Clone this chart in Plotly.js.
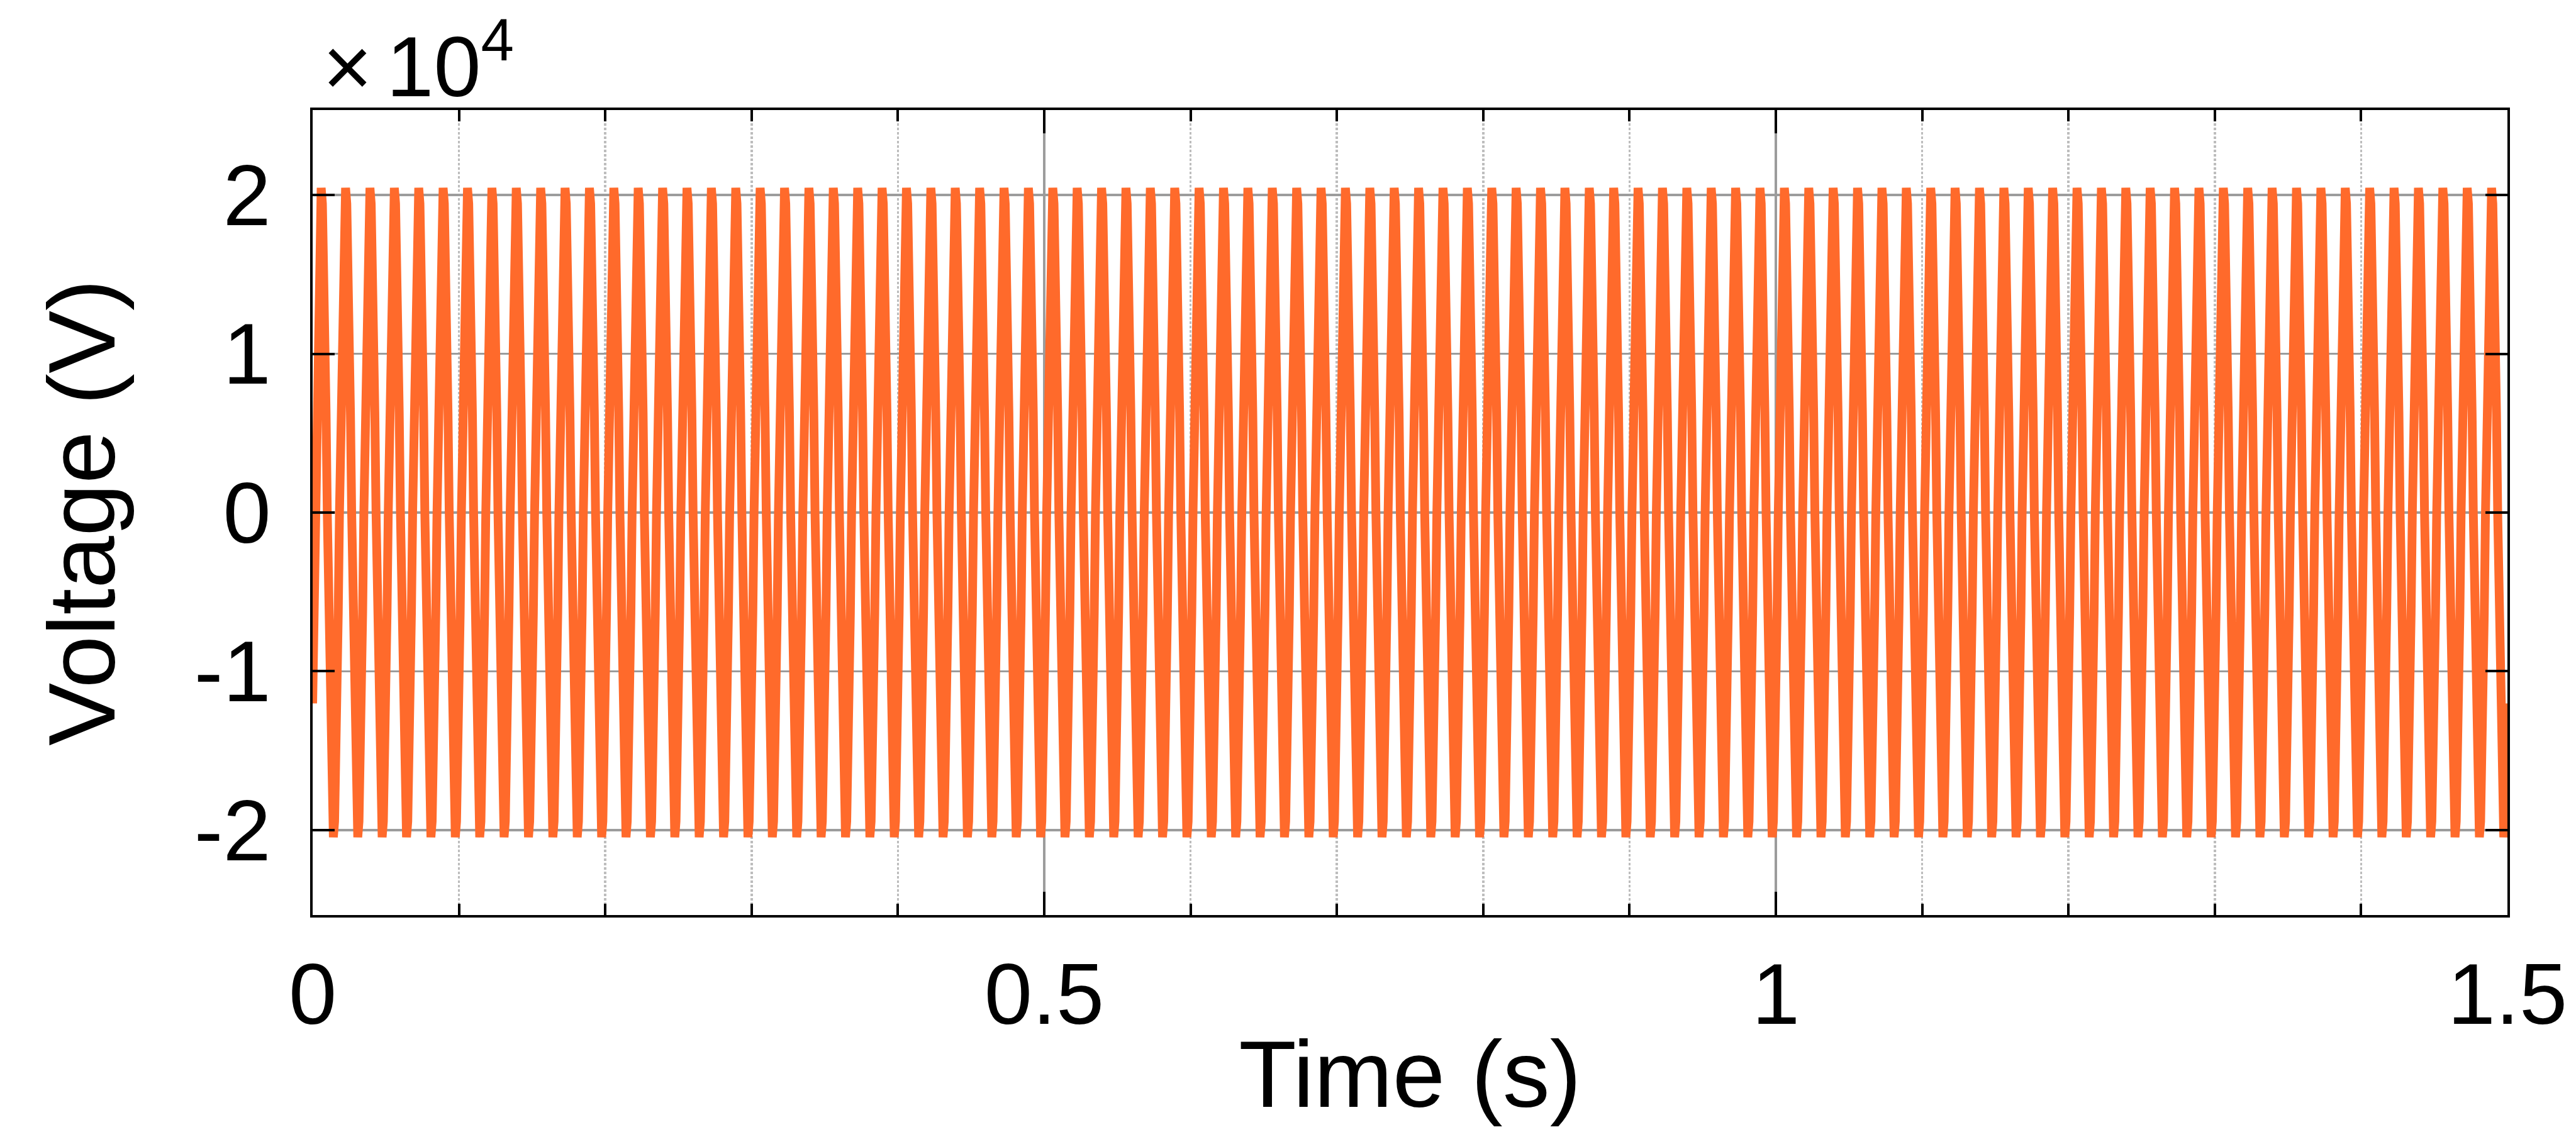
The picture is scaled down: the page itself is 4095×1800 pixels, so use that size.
<!DOCTYPE html>
<html>
<head>
<meta charset="utf-8">
<script src="https://cdn.plot.ly/plotly-3.0.1.min.js"></script>
<style>
  html, body { margin: 0; padding: 0; background: #ffffff; }
  #chart { width: 4095px; height: 1800px; }
</style>
</head>
<body>
<div id="chart"></div>
<script>
const sampleStart = 0;          // s
const sampleInterval = 1 / 1200; // s
const voltage = [
-12021,-6319,0,6319,12021,16544,19450,20450,19450,16544,12021,6319,0,-6319,-12021,-16544,-19450,-20450,-19450,-16544,
-12021,-6319,0,6319,12021,16544,19450,20450,19450,16544,12021,6319,0,-6319,-12021,-16544,-19450,-20450,-19450,-16544,
-12021,-6319,0,6319,12021,16544,19450,20450,19450,16544,12021,6319,0,-6319,-12021,-16544,-19450,-20450,-19450,-16544,
-12021,-6319,0,6319,12021,16544,19450,20450,19450,16544,12021,6319,0,-6319,-12021,-16544,-19450,-20450,-19450,-16544,
-12021,-6319,0,6319,12021,16544,19450,20450,19450,16544,12021,6319,0,-6319,-12021,-16544,-19450,-20450,-19450,-16544,
-12021,-6319,0,6319,12021,16544,19450,20450,19450,16544,12021,6319,0,-6319,-12021,-16544,-19450,-20450,-19450,-16544,
-12021,-6319,0,6319,12021,16544,19450,20450,19450,16544,12021,6319,0,-6319,-12021,-16544,-19450,-20450,-19450,-16544,
-12021,-6319,0,6319,12021,16544,19450,20450,19450,16544,12021,6319,0,-6319,-12021,-16544,-19450,-20450,-19450,-16544,
-12021,-6319,0,6319,12021,16544,19450,20450,19450,16544,12021,6319,0,-6319,-12021,-16544,-19450,-20450,-19450,-16544,
-12021,-6319,0,6319,12021,16544,19450,20450,19450,16544,12021,6319,0,-6319,-12021,-16544,-19450,-20450,-19450,-16544,
-12021,-6319,0,6319,12021,16544,19450,20450,19450,16544,12021,6319,0,-6319,-12021,-16544,-19450,-20450,-19450,-16544,
-12021,-6319,0,6319,12021,16544,19450,20450,19450,16544,12021,6319,0,-6319,-12021,-16544,-19450,-20450,-19450,-16544,
-12021,-6319,0,6319,12021,16544,19450,20450,19450,16544,12021,6319,0,-6319,-12021,-16544,-19450,-20450,-19450,-16544,
-12021,-6319,0,6319,12021,16544,19450,20450,19450,16544,12021,6319,0,-6319,-12021,-16544,-19450,-20450,-19450,-16544,
-12021,-6319,0,6319,12021,16544,19450,20450,19450,16544,12021,6319,0,-6319,-12021,-16544,-19450,-20450,-19450,-16544,
-12021,-6319,0,6319,12021,16544,19450,20450,19450,16544,12021,6319,0,-6319,-12021,-16544,-19450,-20450,-19450,-16544,
-12021,-6319,0,6319,12021,16544,19450,20450,19450,16544,12021,6319,0,-6319,-12021,-16544,-19450,-20450,-19450,-16544,
-12021,-6319,0,6319,12021,16544,19450,20450,19450,16544,12021,6319,0,-6319,-12021,-16544,-19450,-20450,-19450,-16544,
-12021,-6319,0,6319,12021,16544,19450,20450,19450,16544,12021,6319,0,-6319,-12021,-16544,-19450,-20450,-19450,-16544,
-12021,-6319,0,6319,12021,16544,19450,20450,19450,16544,12021,6319,0,-6319,-12021,-16544,-19450,-20450,-19450,-16544,
-12021,-6319,0,6319,12021,16544,19450,20450,19450,16544,12021,6319,0,-6319,-12021,-16544,-19450,-20450,-19450,-16544,
-12021,-6319,0,6319,12021,16544,19450,20450,19450,16544,12021,6319,0,-6319,-12021,-16544,-19450,-20450,-19450,-16544,
-12021,-6319,0,6319,12021,16544,19450,20450,19450,16544,12021,6319,0,-6319,-12021,-16544,-19450,-20450,-19450,-16544,
-12021,-6319,0,6319,12021,16544,19450,20450,19450,16544,12021,6319,0,-6319,-12021,-16544,-19450,-20450,-19450,-16544,
-12021,-6319,0,6319,12021,16544,19450,20450,19450,16544,12021,6319,0,-6319,-12021,-16544,-19450,-20450,-19450,-16544,
-12021,-6319,0,6319,12021,16544,19450,20450,19450,16544,12021,6319,0,-6319,-12021,-16544,-19450,-20450,-19450,-16544,
-12021,-6319,0,6319,12021,16544,19450,20450,19450,16544,12021,6319,0,-6319,-12021,-16544,-19450,-20450,-19450,-16544,
-12021,-6319,0,6319,12021,16544,19450,20450,19450,16544,12021,6319,0,-6319,-12021,-16544,-19450,-20450,-19450,-16544,
-12021,-6319,0,6319,12021,16544,19450,20450,19450,16544,12021,6319,0,-6319,-12021,-16544,-19450,-20450,-19450,-16544,
-12021,-6319,0,6319,12021,16544,19450,20450,19450,16544,12021,6319,0,-6319,-12021,-16544,-19450,-20450,-19450,-16544,
-12021,-6319,0,6319,12021,16544,19450,20450,19450,16544,12021,6319,0,-6319,-12021,-16544,-19450,-20450,-19450,-16544,
-12021,-6319,0,6319,12021,16544,19450,20450,19450,16544,12021,6319,0,-6319,-12021,-16544,-19450,-20450,-19450,-16544,
-12021,-6319,0,6319,12021,16544,19450,20450,19450,16544,12021,6319,0,-6319,-12021,-16544,-19450,-20450,-19450,-16544,
-12021,-6319,0,6319,12021,16544,19450,20450,19450,16544,12021,6319,0,-6319,-12021,-16544,-19450,-20450,-19450,-16544,
-12021,-6319,0,6319,12021,16544,19450,20450,19450,16544,12021,6319,0,-6319,-12021,-16544,-19450,-20450,-19450,-16544,
-12021,-6319,0,6319,12021,16544,19450,20450,19450,16544,12021,6319,0,-6319,-12021,-16544,-19450,-20450,-19450,-16544,
-12021,-6319,0,6319,12021,16544,19450,20450,19450,16544,12021,6319,0,-6319,-12021,-16544,-19450,-20450,-19450,-16544,
-12021,-6319,0,6319,12021,16544,19450,20450,19450,16544,12021,6319,0,-6319,-12021,-16544,-19450,-20450,-19450,-16544,
-12021,-6319,0,6319,12021,16544,19450,20450,19450,16544,12021,6319,0,-6319,-12021,-16544,-19450,-20450,-19450,-16544,
-12021,-6319,0,6319,12021,16544,19450,20450,19450,16544,12021,6319,0,-6319,-12021,-16544,-19450,-20450,-19450,-16544,
-12021,-6319,0,6319,12021,16544,19450,20450,19450,16544,12021,6319,0,-6319,-12021,-16544,-19450,-20450,-19450,-16544,
-12021,-6319,0,6319,12021,16544,19450,20450,19450,16544,12021,6319,0,-6319,-12021,-16544,-19450,-20450,-19450,-16544,
-12021,-6319,0,6319,12021,16544,19450,20450,19450,16544,12021,6319,0,-6319,-12021,-16544,-19450,-20450,-19450,-16544,
-12021,-6319,0,6319,12021,16544,19450,20450,19450,16544,12021,6319,0,-6319,-12021,-16544,-19450,-20450,-19450,-16544,
-12021,-6319,0,6319,12021,16544,19450,20450,19450,16544,12021,6319,0,-6319,-12021,-16544,-19450,-20450,-19450,-16544,
-12021,-6319,0,6319,12021,16544,19450,20450,19450,16544,12021,6319,0,-6319,-12021,-16544,-19450,-20450,-19450,-16544,
-12021,-6319,0,6319,12021,16544,19450,20450,19450,16544,12021,6319,0,-6319,-12021,-16544,-19450,-20450,-19450,-16544,
-12021,-6319,0,6319,12021,16544,19450,20450,19450,16544,12021,6319,0,-6319,-12021,-16544,-19450,-20450,-19450,-16544,
-12021,-6319,0,6319,12021,16544,19450,20450,19450,16544,12021,6319,0,-6319,-12021,-16544,-19450,-20450,-19450,-16544,
-12021,-6319,0,6319,12021,16544,19450,20450,19450,16544,12021,6319,0,-6319,-12021,-16544,-19450,-20450,-19450,-16544,
-12021,-6319,0,6319,12021,16544,19450,20450,19450,16544,12021,6319,0,-6319,-12021,-16544,-19450,-20450,-19450,-16544,
-12021,-6319,0,6319,12021,16544,19450,20450,19450,16544,12021,6319,0,-6319,-12021,-16544,-19450,-20450,-19450,-16544,
-12021,-6319,0,6319,12021,16544,19450,20450,19450,16544,12021,6319,0,-6319,-12021,-16544,-19450,-20450,-19450,-16544,
-12021,-6319,0,6319,12021,16544,19450,20450,19450,16544,12021,6319,0,-6319,-12021,-16544,-19450,-20450,-19450,-16544,
-12021,-6319,0,6319,12021,16544,19450,20450,19450,16544,12021,6319,0,-6319,-12021,-16544,-19450,-20450,-19450,-16544,
-12021,-6319,0,6319,12021,16544,19450,20450,19450,16544,12021,6319,0,-6319,-12021,-16544,-19450,-20450,-19450,-16544,
-12021,-6319,0,6319,12021,16544,19450,20450,19450,16544,12021,6319,0,-6319,-12021,-16544,-19450,-20450,-19450,-16544,
-12021,-6319,0,6319,12021,16544,19450,20450,19450,16544,12021,6319,0,-6319,-12021,-16544,-19450,-20450,-19450,-16544,
-12021,-6319,0,6319,12021,16544,19450,20450,19450,16544,12021,6319,0,-6319,-12021,-16544,-19450,-20450,-19450,-16544,
-12021,-6319,0,6319,12021,16544,19450,20450,19450,16544,12021,6319,0,-6319,-12021,-16544,-19450,-20450,-19450,-16544,
-12021,-6319,0,6319,12021,16544,19450,20450,19450,16544,12021,6319,0,-6319,-12021,-16544,-19450,-20450,-19450,-16544,
-12021,-6319,0,6319,12021,16544,19450,20450,19450,16544,12021,6319,0,-6319,-12021,-16544,-19450,-20450,-19450,-16544,
-12021,-6319,0,6319,12021,16544,19450,20450,19450,16544,12021,6319,0,-6319,-12021,-16544,-19450,-20450,-19450,-16544,
-12021,-6319,0,6319,12021,16544,19450,20450,19450,16544,12021,6319,0,-6319,-12021,-16544,-19450,-20450,-19450,-16544,
-12021,-6319,0,6319,12021,16544,19450,20450,19450,16544,12021,6319,0,-6319,-12021,-16544,-19450,-20450,-19450,-16544,
-12021,-6319,0,6319,12021,16544,19450,20450,19450,16544,12021,6319,0,-6319,-12021,-16544,-19450,-20450,-19450,-16544,
-12021,-6319,0,6319,12021,16544,19450,20450,19450,16544,12021,6319,0,-6319,-12021,-16544,-19450,-20450,-19450,-16544,
-12021,-6319,0,6319,12021,16544,19450,20450,19450,16544,12021,6319,0,-6319,-12021,-16544,-19450,-20450,-19450,-16544,
-12021,-6319,0,6319,12021,16544,19450,20450,19450,16544,12021,6319,0,-6319,-12021,-16544,-19450,-20450,-19450,-16544,
-12021,-6319,0,6319,12021,16544,19450,20450,19450,16544,12021,6319,0,-6319,-12021,-16544,-19450,-20450,-19450,-16544,
-12021,-6319,0,6319,12021,16544,19450,20450,19450,16544,12021,6319,0,-6319,-12021,-16544,-19450,-20450,-19450,-16544,
-12021,-6319,0,6319,12021,16544,19450,20450,19450,16544,12021,6319,0,-6319,-12021,-16544,-19450,-20450,-19450,-16544,
-12021,-6319,0,6319,12021,16544,19450,20450,19450,16544,12021,6319,0,-6319,-12021,-16544,-19450,-20450,-19450,-16544,
-12021,-6319,0,6319,12021,16544,19450,20450,19450,16544,12021,6319,0,-6319,-12021,-16544,-19450,-20450,-19450,-16544,
-12021,-6319,0,6319,12021,16544,19450,20450,19450,16544,12021,6319,0,-6319,-12021,-16544,-19450,-20450,-19450,-16544,
-12021,-6319,0,6319,12021,16544,19450,20450,19450,16544,12021,6319,0,-6319,-12021,-16544,-19450,-20450,-19450,-16544,
-12021,-6319,0,6319,12021,16544,19450,20450,19450,16544,12021,6319,0,-6319,-12021,-16544,-19450,-20450,-19450,-16544,
-12021,-6319,0,6319,12021,16544,19450,20450,19450,16544,12021,6319,0,-6319,-12021,-16544,-19450,-20450,-19450,-16544,
-12021,-6319,0,6319,12021,16544,19450,20450,19450,16544,12021,6319,0,-6319,-12021,-16544,-19450,-20450,-19450,-16544,
-12021,-6319,0,6319,12021,16544,19450,20450,19450,16544,12021,6319,0,-6319,-12021,-16544,-19450,-20450,-19450,-16544,
-12021,-6319,0,6319,12021,16544,19450,20450,19450,16544,12021,6319,0,-6319,-12021,-16544,-19450,-20450,-19450,-16544,
-12021,-6319,0,6319,12021,16544,19450,20450,19450,16544,12021,6319,0,-6319,-12021,-16544,-19450,-20450,-19450,-16544,
-12021,-6319,0,6319,12021,16544,19450,20450,19450,16544,12021,6319,0,-6319,-12021,-16544,-19450,-20450,-19450,-16544,
-12021,-6319,0,6319,12021,16544,19450,20450,19450,16544,12021,6319,0,-6319,-12021,-16544,-19450,-20450,-19450,-16544,
-12021,-6319,0,6319,12021,16544,19450,20450,19450,16544,12021,6319,0,-6319,-12021,-16544,-19450,-20450,-19450,-16544,
-12021,-6319,0,6319,12021,16544,19450,20450,19450,16544,12021,6319,0,-6319,-12021,-16544,-19450,-20450,-19450,-16544,
-12021,-6319,0,6319,12021,16544,19450,20450,19450,16544,12021,6319,0,-6319,-12021,-16544,-19450,-20450,-19450,-16544,
-12021,-6319,0,6319,12021,16544,19450,20450,19450,16544,12021,6319,0,-6319,-12021,-16544,-19450,-20450,-19450,-16544,
-12021,-6319,0,6319,12021,16544,19450,20450,19450,16544,12021,6319,0,-6319,-12021,-16544,-19450,-20450,-19450,-16544,
-12021,-6319,0,6319,12021,16544,19450,20450,19450,16544,12021,6319,0,-6319,-12021,-16544,-19450,-20450,-19450,-16544,
-12021
];

const xTickVals = [0, 0.5, 1, 1.5];
const xTickText = ['0', '0.5', '1', '1.5'];
const yTickVals = [-20000, -10000, 0, 10000, 20000];
const yTickText = ['-2', '-1', '0', '1', '2'];
const yExponentLabel = '\u00d7\u200610<sup>4</sup>';
const xTitle = 'Time (s)';
const yTitle = 'Voltage (V)';

const FONT = 'Liberation Sans, Arial, Helvetica, sans-serif';

const trace = {
  type: 'scatter',
  mode: 'lines',
  x0: sampleStart,
  dx: sampleInterval,
  y: voltage,
  line: { color: '#ff6a2b', width: 14 },
  hoverinfo: 'skip'
};

const layout = {
  width: 4095,
  height: 1800,
  margin: { l: 497, r: 109, t: 175, b: 345, pad: 0 },
  paper_bgcolor: '#ffffff',
  plot_bgcolor: '#ffffff',
  showlegend: false,
  font: { family: FONT, color: '#000000', size: 135 },
  xaxis: {
    range: [0, 1.5],
    tickmode: 'array',
    tickvals: xTickVals,
    ticktext: xTickText,
    ticks: 'inside',
    ticklen: 37,
    tickwidth: 4,
    tickcolor: '#000000',
    showline: true,
    linecolor: '#000000',
    linewidth: 4,
    mirror: 'ticks',
    showgrid: true,
    gridcolor: '#9c9c9c',
    gridwidth: 3.5,
    zeroline: false,
    tickfont: { family: FONT, size: 137, color: '#000000' },
    ticklabelstandoff: 5,
    minor: {
      dtick: 0.1,
      tick0: 0,
      ticks: 'inside',
      ticklen: 18,
      tickwidth: 4,
      tickcolor: '#000000',
      showgrid: true,
      gridcolor: '#bdbdbd',
      gridwidth: 3.5,
      griddash: 'dot'
    },
    title: { text: xTitle, font: { family: FONT, size: 150, color: '#000000' }, standoff: 0 }
  },
  yaxis: {
    range: [-25350, 25350],
    tickmode: 'array',
    tickvals: yTickVals,
    ticktext: yTickText,
    ticks: 'inside',
    ticklen: 35,
    tickwidth: 4,
    tickcolor: '#000000',
    showline: true,
    linecolor: '#000000',
    linewidth: 4,
    mirror: 'ticks',
    showgrid: true,
    gridcolor: '#9c9c9c',
    gridwidth: 3.5,
    zeroline: false,
    tickfont: { family: FONT, size: 137, color: '#000000' },
    ticklabelstandoff: 35,
    title: { text: yTitle, font: { family: FONT, size: 150, color: '#000000' }, standoff: 76 }
  },
  annotations: [{
    text: yExponentLabel,
    xref: 'paper', yref: 'paper',
    x: 0.004, y: 1.0,
    xanchor: 'left', yanchor: 'bottom',
    yshift: -9,
    showarrow: false,
    font: { family: FONT, size: 135, color: '#000000' }
  }]
};

Plotly.newPlot('chart', [trace], layout, { staticPlot: true, displayModeBar: false });
</script>
</body>
</html>
